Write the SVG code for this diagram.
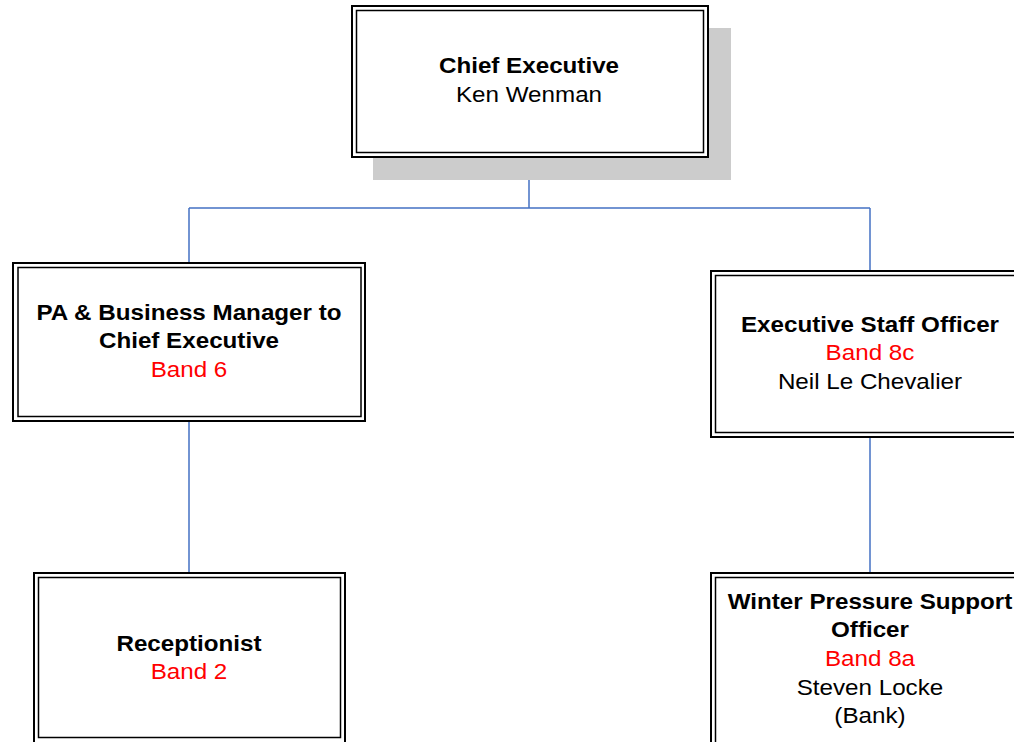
<svg xmlns="http://www.w3.org/2000/svg" width="1014" height="742" viewBox="0 0 1014 742">
<style>
.outer{fill:#fff;stroke:#000;stroke-width:2}
.inner{fill:none;stroke:#000;stroke-width:1.5}
.t{font-family:"Liberation Sans",Arial,sans-serif;font-size:22px;text-anchor:middle;fill:#000}
.b{font-weight:bold}
.r{fill:#ff0000}
.conn{stroke:#4472c4;stroke-width:1.5;fill:none}
</style>
<rect width="1014" height="742" fill="#fff"/>
<g id="connectors">
<path class="conn" d="M529 157V208M189 208H870M189 208V263M870 208V271M189 421V573M870 437V573"/>
</g>
<g id="chief-executive">
<rect x="373" y="28" width="358" height="152" fill="#cccccc"/>
<rect class="outer" x="352" y="6" width="356" height="151"/>
<rect class="inner" x="356.5" y="10.5" width="347" height="142"/>
<g transform="matrix(1.1 0 0 1 -52.9 0)">
<text class="t b" x="529" y="73">Chief Executive</text>
<text class="t" x="529" y="102">Ken Wenman</text>
</g>
</g>
<g id="pa-business-manager">
<rect class="outer" x="13" y="263" width="352" height="158"/>
<rect class="inner" x="18" y="267.5" width="343" height="149"/>
<g transform="matrix(1.1 0 0 1 -18.9 0)">
<text class="t b" x="189" y="320">PA &amp; Business Manager to</text>
<text class="t b" x="189" y="348.5">Chief Executive</text>
<text class="t r" x="189" y="377">Band 6</text>
</g>
</g>
<g id="executive-staff-officer">
<rect class="outer" x="711" y="271" width="330" height="166"/>
<rect class="inner" x="715.5" y="275.5" width="321" height="157"/>
<g transform="matrix(1.1 0 0 1 -87 0)">
<text class="t b" x="870" y="332">Executive Staff Officer</text>
<text class="t r" x="870" y="360.5">Band 8c</text>
<text class="t" x="870" y="389">Neil Le Chevalier</text>
</g>
</g>
<g id="receptionist">
<rect class="outer" x="34" y="573" width="311" height="180"/>
<rect class="inner" x="38.5" y="577.5" width="302" height="160"/>
<g transform="matrix(1.1 0 0 1 -18.9 0)">
<text class="t b" x="189" y="651">Receptionist</text>
<text class="t r" x="189" y="679.5">Band 2</text>
</g>
</g>
<g id="winter-pressure-support-officer">
<rect class="outer" x="711" y="573" width="330" height="180"/>
<rect class="inner" x="715.5" y="577.5" width="321" height="170"/>
<g transform="matrix(1.1 0 0 1 -87 0)">
<text class="t b" x="870" y="609">Winter Pressure Support</text>
<text class="t b" x="870" y="637.5">Officer</text>
<text class="t r" x="870" y="666">Band 8a</text>
<text class="t" x="870" y="695">Steven Locke</text>
<text class="t" x="870" y="723.5">(Bank)</text>
</g>
</g>
</svg>
